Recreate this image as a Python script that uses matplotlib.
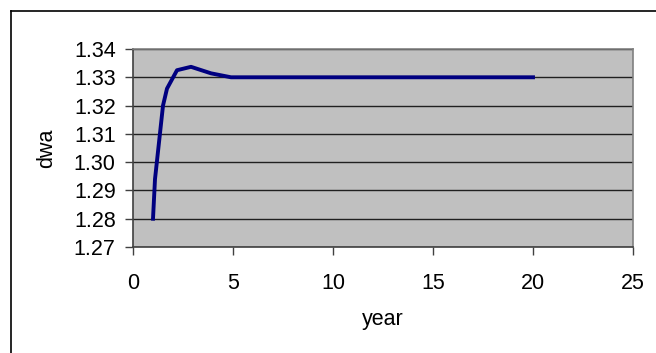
import matplotlib.pyplot as plt
from matplotlib.lines import Line2D

plt.rcParams['font.family'] = ['Liberation Sans', 'DejaVu Sans']

# data
year = [1, 1.1, 1.5, 1.7, 2.2, 2.9, 3.9, 4.9, 10, 15, 20]
dwa = [1.280, 1.294, 1.320, 1.326, 1.3325, 1.3337, 1.3314, 1.3300, 1.3300, 1.3300, 1.3300]

xticks = [0, 5, 10, 15, 20, 25]
yticks = [1.27, 1.28, 1.29, 1.30, 1.31, 1.32, 1.33, 1.34]

W, H = 656, 353
fig = plt.figure(figsize=(W / 100, H / 100), dpi=100)
ax = fig.add_axes([133 / W, 1 - 247 / H, 500 / W, 198 / H])

ax.set_facecolor('#c0c0c0')
ax.plot(year, dwa, color='#000080', lw=2.8, solid_joinstyle='round', zorder=3)

ax.set_xlim(0, 25)
ax.set_ylim(1.27, 1.34)
ax.set_xticks(xticks)
ax.set_yticks(yticks)
ax.set_yticklabels(['%.2f' % v for v in yticks])
ax.yaxis.grid(True, color='#202020', lw=1.0)
ax.set_axisbelow(True)

ax.tick_params(axis='both', direction='out', length=5.5, width=1, color='#404040', labelsize=15.5)
ax.tick_params(axis='y', pad=7)
ax.tick_params(axis='x', pad=13)

for s in ['left', 'bottom']:
    ax.spines[s].set_color('#404040')
    ax.spines[s].set_linewidth(1.2)
for s in ['top', 'right']:
    ax.spines[s].set_color('#808080')
    ax.spines[s].set_linewidth(1.2)

fig.text(383 / W, 1 - 319 / H, 'year', ha='center', va='center', fontsize=15.5)
fig.text(47 / W, 1 - 148 / H, 'dwa', ha='center', va='center', rotation=90, fontsize=15.5)

# outer chart frame (only top and left edges are visible)
fig.add_artist(Line2D([10.5 / W, 1], [1 - 10.5 / H, 1 - 10.5 / H], color='black', lw=1.2, transform=fig.transFigure))
fig.add_artist(Line2D([10.5 / W, 10.5 / W], [0, 1 - 10.5 / H], color='black', lw=1.2, transform=fig.transFigure))

fig.savefig('out.png', dpi=100)
